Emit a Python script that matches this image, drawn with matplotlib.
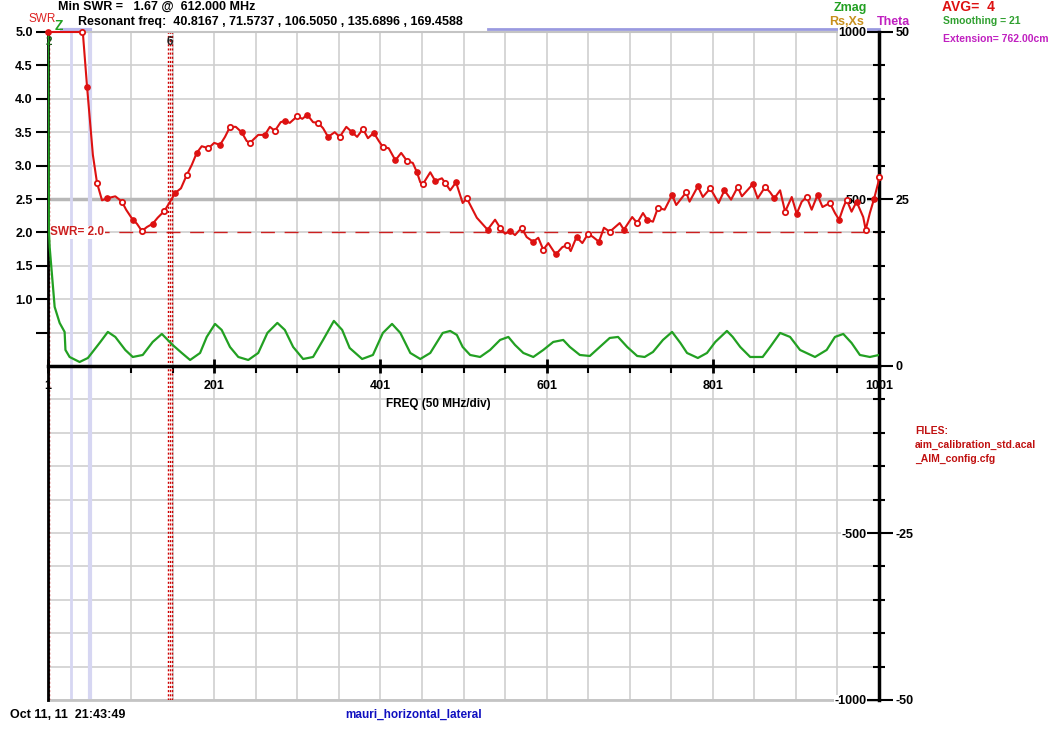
import matplotlib
matplotlib.use("Agg")
import matplotlib.pyplot as plt
from matplotlib.ticker import FixedLocator, MultipleLocator

# sweep point (1..1001, 1 MHz per step) and SWR
swr_x = [1, 27, 42, 43, 48, 55, 60, 66, 72, 82, 90, 95, 103, 108, 114, 120,
         127, 133, 141, 147, 154, 161, 168, 174, 180, 186, 194, 201, 208, 214,
         220, 227, 234, 240, 244, 254, 262, 268, 274, 281, 286, 292, 301, 307,
         313, 320, 326, 332, 338, 346, 352, 360, 367, 373, 380, 386, 393, 399,
         404, 411, 419, 426, 433, 440, 445, 449, 452, 461, 467, 475, 479, 485,
         492, 500, 505, 517, 530, 539, 545, 551, 557, 563, 571, 577, 585, 591,
         597, 603, 612, 620, 626, 630, 637, 644, 651, 657, 664, 670, 677, 689,
         694, 704, 710, 717, 722, 729, 735, 743, 752, 757, 769, 773, 783, 789,
         798, 808, 815, 823, 831, 836, 849, 855, 864, 870, 875, 882, 888, 896,
         902, 908, 914, 920, 927, 933, 942, 948, 953, 958, 962, 968, 974, 982,
         985, 990, 995, 1000, 1001]
swr_y = [5.00, 5.00, 5.00, 4.98, 4.18, 3.16, 2.74, 2.48, 2.51, 2.54, 2.46, 2.34,
         2.19, 2.13, 2.02, 2.08, 2.13, 2.22, 2.32, 2.44, 2.59, 2.66, 2.86, 3.01,
         3.19, 3.29, 3.26, 3.34, 3.31, 3.43, 3.58, 3.58, 3.50, 3.37, 3.34, 3.46,
         3.46, 3.58, 3.52, 3.65, 3.67, 3.64, 3.74, 3.70, 3.76, 3.65, 3.64, 3.56,
         3.43, 3.50, 3.43, 3.58, 3.50, 3.43, 3.55, 3.41, 3.49, 3.37, 3.28, 3.26,
         3.08, 3.19, 3.07, 3.04, 2.90, 2.75, 2.72, 2.90, 2.77, 2.81, 2.74, 2.63,
         2.75, 2.44, 2.51, 2.22, 2.04, 2.19, 2.07, 1.98, 2.02, 1.96, 2.07, 1.93,
         1.86, 1.92, 1.74, 1.84, 1.67, 1.78, 1.81, 1.72, 1.93, 1.84, 1.98, 1.93,
         1.86, 2.07, 2.01, 2.14, 2.04, 2.23, 2.14, 2.29, 2.19, 2.16, 2.37, 2.34,
         2.56, 2.41, 2.60, 2.46, 2.69, 2.53, 2.66, 2.44, 2.63, 2.49, 2.68, 2.54,
         2.72, 2.51, 2.68, 2.60, 2.51, 2.63, 2.31, 2.53, 2.28, 2.46, 2.53, 2.34,
         2.56, 2.38, 2.44, 2.29, 2.19, 2.37, 2.49, 2.31, 2.46, 2.23, 2.04, 2.29,
         2.50, 2.74, 2.83]

# Zmag (ohms)
zmag_x = [1, 2, 3, 7, 9, 15, 21, 22, 27, 39, 49, 64, 73, 82, 94, 103, 115, 127,
          138, 151, 162, 172, 184, 192, 202, 210, 220, 230, 242, 254, 265, 277,
          286, 296, 308, 320, 332, 345, 355, 364, 379, 392, 404, 415, 425, 437,
          449, 461, 476, 485, 493, 500, 509, 521, 533, 545, 555, 563, 573, 585,
          597, 609, 621, 629, 641, 653, 665, 677, 687, 698, 710, 719, 729, 741,
          752, 762, 770, 783, 794, 804, 818, 825, 834, 846, 861, 870, 882, 894,
          906, 924, 938, 948, 958, 968, 978, 990, 1001]
zmag_y = [1000, 410, 356, 237, 177, 129, 102, 48, 27, 12, 24, 72, 102, 87, 48,
          27, 33, 72, 96, 63, 39, 18, 39, 87, 126, 108, 57, 27, 18, 39, 99, 129,
          108, 57, 21, 27, 78, 135, 108, 54, 21, 33, 99, 126, 99, 39, 21, 39, 99,
          105, 93, 57, 33, 27, 48, 78, 87, 63, 39, 27, 48, 72, 78, 57, 33, 30, 57,
          84, 87, 57, 30, 27, 42, 78, 102, 69, 39, 24, 39, 72, 105, 87, 57, 27,
          27, 57, 99, 87, 48, 27, 48, 87, 96, 69, 33, 27, 33]

freq_ticks = [1, 201, 401, 601, 801, 1001]
swr_ticks = [0.5, 1.0, 1.5, 2.0, 2.5, 3.0, 3.5, 4.0, 4.5, 5.0]
swr_labels = ["", "1.0", "1.5", "2.0", "2.5", "3.0", "3.5", "4.0", "4.5", "5.0"]
zmag_ticks = [-1000, -500, 500, 1000]
theta_ticks = [-50, -25, 0, 25, 50]
resonant = [40.8167, 71.5737, 106.5050, 135.6896, 169.4588]
marker_pos = [2, 145.5, 148, 150.5]
marker_names = {"2": 2, "6": 148}
band_pos = [29, 51]
swr_limit = 2.0

RED = "#dd1111"
GREEN = "#22a022"
GRID = "#cfcfcf"


def fx(px):
    return px / 1050.0


def fy(py):
    return 1 - py / 750.0


plt.rcParams["font.family"] = ["Liberation Sans", "DejaVu Sans"]
plt.rcParams["font.weight"] = "bold"

fig = plt.figure(figsize=(10.5, 7.5), dpi=100)
ax = fig.add_axes([fx(48), fy(700), 831 / 1050.0, 668 / 750.0])
ax.set_xlim(1, 1001)
ax.set_ylim(-5, 5)
ax.set_axisbelow(True)

# grid
ax.xaxis.set_major_locator(FixedLocator(freq_ticks))
ax.xaxis.set_minor_locator(MultipleLocator(50, offset=1))
ax.yaxis.set_major_locator(FixedLocator(swr_ticks))
ax.yaxis.set_minor_locator(MultipleLocator(0.5))
ax.grid(which="both", color=GRID, lw=1.2)
ax.set_yticklabels(swr_labels)
ax.tick_params(axis="y", which="major", direction="out", length=9, width=1.5,
               pad=2, labelsize=9)
ax.tick_params(axis="y", which="minor", length=0)
ax.tick_params(axis="x", which="major", direction="inout", length=10,
               width=2, pad=5, labelsize=9)
ax.tick_params(axis="x", which="minor", direction="out", length=5, width=1.5)

ax.spines["bottom"].set_position(("data", 0))
ax.spines["bottom"].set_linewidth(2.5)
ax.spines["left"].set_linewidth(2)
ax.spines["right"].set_linewidth(2.5)
ax.spines["top"].set_color("#c4c4c4")
ax.spines["top"].set_linewidth(1.5)
ax.axhline(-5, color="#c4c4c4", lw=2, clip_on=False)

# reference lines and markers
ax.axhline(2.5, color="#b8b8b8", lw=2.5, zorder=1)
ax.axhline(swr_limit, color="#cc2020", lw=1, dashes=(10, 7), zorder=2)
ax.text(4, swr_limit, "SWR= 2.0", color="#cc2020", fontsize=8.5, va="center",
        bbox=dict(fc="white", ec="none", pad=0.5), zorder=3)
for b, w in zip(band_pos, [2, 3]):
    ax.axvline(b, color="#d6d6f2", lw=w, zorder=1)
for m in marker_pos:
    ax.axvline(m, color="#cc0000", lw=1, dashes=(1.5, 1.5), zorder=2)
for name, m in marker_names.items():
    ax.text(m, 4.85, name, fontsize=8.5, ha="center", va="center",
            color="#222222" if name == "6" else "#1a5a1a", zorder=5)

# top lavender bars
ax.plot([530, 1001], [1.005, 1.005], color="#9a9ae0", lw=2,
        transform=ax.get_xaxis_transform(), clip_on=False)
ax.plot([18, 52], [1.003, 1.003], color="#b8b8ec", lw=3,
        transform=ax.get_xaxis_transform(), clip_on=False)

# Zmag on its own scale, labels inside the right edge
axz = ax.twinx()
axz.set_ylim(-1000, 1000)
for s in axz.spines.values():
    s.set_visible(False)
axz.plot(zmag_x, zmag_y, color=GREEN, lw=1.6)
axz.set_yticks(zmag_ticks, labels=[str(v) for v in zmag_ticks])
axz.tick_params(axis="y", direction="in", length=9, width=1.5, pad=-9,
                labelsize=9)
for lab in axz.get_yticklabels():
    lab.set_ha("right")
    lab.set_bbox(dict(fc="white", ec="none", pad=0.5))

# Theta scale outside
axt = ax.twinx()
axt.set_ylim(-50, 50)
for s in axt.spines.values():
    s.set_visible(False)
axt.set_yticks(theta_ticks, labels=[str(v) for v in theta_ticks])
axt.yaxis.set_minor_locator(MultipleLocator(5))
axt.tick_params(axis="y", which="major", direction="out", length=10,
                width=1.5, pad=2, labelsize=9)
axt.tick_params(axis="y", which="minor", direction="inout", length=8,
                width=1.5)

# SWR trace on top
axs = ax.twinx()
axs.set_ylim(-5, 5)
axs.axis("off")
axs.plot(swr_x, swr_y, color=RED, lw=1.5, clip_on=False)
axs.plot(swr_x[::4], swr_y[::4], "o", color=RED, ms=3.8, clip_on=False)
axs.plot(swr_x[2::4], swr_y[2::4], "o", color=RED, mfc="white", mew=1.3,
         ms=3.8, clip_on=False)

# header / side texts
fig.text(fx(58), fy(7), "Min SWR =   1.67 @  612.000 MHz", fontsize=9,
         va="center")
fig.text(fx(78), fy(22), "Resonant freq:  " +
         " , ".join("%.4f" % r for r in resonant), fontsize=9, va="center")
fig.text(fx(28), fy(19), "SWR", color="#dd2222", fontsize=8.5, va="center",
         weight="normal")
fig.text(fx(55), fy(26), "Z", color=GREEN, fontsize=10, va="center")
fig.text(fx(834), fy(8), "Zmag", color=GREEN, fontsize=9, va="center")
fig.text(fx(829), fy(22), "Rs,Xs", color="#c8901c", fontsize=9, va="center")
fig.text(fx(877), fy(22), "Theta", color="#c020c0", fontsize=9, va="center")
fig.text(fx(942), fy(7), "AVG=  4", color="#dd1111", fontsize=10,
         va="center")
fig.text(fx(943), fy(21), "Smoothing = 21", color="#30a030", fontsize=7.5,
         va="center")
fig.text(fx(943), fy(39), "Extension= 762.00cm", color="#c020c0",
         fontsize=7.5, va="center")
fig.text(fx(915), fy(431), "FILES:", color="#c01010", fontsize=7.5,
         va="center")
fig.text(fx(915), fy(445), "aim_calibration_std.acal", color="#c01010",
         fontsize=7.5, va="center")
fig.text(fx(915), fy(459), "_AIM_config.cfg", color="#c01010", fontsize=7.5,
         va="center")
fig.text(fx(438), fy(404), "FREQ (50 MHz/div)", fontsize=8.5, ha="center",
         va="center")
fig.text(fx(10), fy(715), "Oct 11, 11  21:43:49", fontsize=9, va="center")
fig.text(fx(345), fy(715), "mauri_horizontal_lateral", color="#1010c0",
         fontsize=8.5, va="center")

fig.savefig("out.png", dpi=100)
